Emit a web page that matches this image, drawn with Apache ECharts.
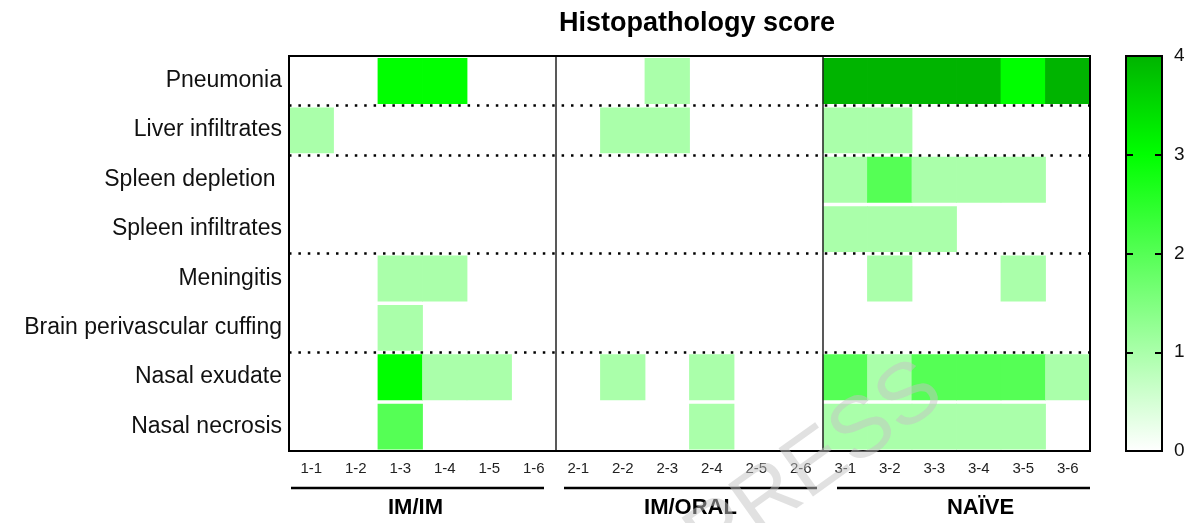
<!DOCTYPE html>
<html>
<head>
<meta charset="utf-8">
<script src="https://cdn.jsdelivr.net/npm/echarts@6/dist/echarts.min.js"></script>
<style>html,body{margin:0;padding:0;background:#fff;}#c{width:1191px;height:523px;}</style>
</head>
<body>
<div id="c"></div>
<script>
// ---- data ----
var columns = ['1-1','1-2','1-3','1-4','1-5','1-6','2-1','2-2','2-3','2-4','2-5','2-6','3-1','3-2','3-3','3-4','3-5','3-6'];
var rows = ['Pneumonia','Liver infiltrates','Spleen depletion ','Spleen infiltrates','Meningitis','Brain perivascular cuffing','Nasal exudate','Nasal necrosis'];
var groups = ['IM/IM','IM/ORAL','NAÏVE'];
var pneumonia         = [0,0,3,3,0,0, 0,0,1,0,0,0, 4,4,4,4,3,4];
var liverInfiltrates  = [1,0,0,0,0,0, 0,1,1,0,0,0, 1,1,0,0,0,0];
var spleenDepletion   = [0,0,0,0,0,0, 0,0,0,0,0,0, 1,2,1,1,1,0];
var spleenInfiltrates = [0,0,0,0,0,0, 0,0,0,0,0,0, 1,1,1,0,0,0];
var meningitis        = [0,0,1,1,0,0, 0,0,0,0,0,0, 0,1,0,0,1,0];
var brainCuffing      = [0,0,1,0,0,0, 0,0,0,0,0,0, 0,0,0,0,0,0];
var nasalExudate      = [0,0,3,1,1,0, 0,1,0,1,0,0, 2,1,2,2,2,1];
var nasalNecrosis     = [0,0,2,0,0,0, 0,0,0,1,0,0, 1,1,1,1,1,0];
var scaleTicks = [0,1,2,3,4];
var groupBoundaries = [6,12];
var rowGroupBoundaries = [1,2,4,6];
var palette = ['#ffffff','#aaffaa','#55ff55','#00ff00','#00b400'];

var matrix = [pneumonia, liverInfiltrates, spleenDepletion, spleenInfiltrates, meningitis, brainCuffing, nasalExudate, nasalNecrosis];
var cells = [];
matrix.forEach(function(r, ri){ r.forEach(function(v, ci){ cells.push([ci, ri, v]); }); });

var FONT = '"Liberation Sans", Arial, Helvetica, sans-serif';
var chart = echarts.init(document.getElementById('c'), null, {renderer:'canvas'});

var option = {
  animation: false,
  backgroundColor: '#fff',
  title: {
    text: 'Histopathology score', left: 692, top: 5, textAlign: 'center',
    textStyle: {fontFamily: FONT, fontSize: 27, fontWeight: 'bold', color: '#000'}
  },
  visualMap: {
    show: false, type: 'continuous', min: scaleTicks[0], max: scaleTicks[scaleTicks.length-1],
    dimension: 2, seriesIndex: 0,
    inRange: {color: palette}
  },
  grid: [
    {left: 289, right: 101, top: 56, bottom: 72, show: true, z: 10, borderColor: '#000', borderWidth: 2, backgroundColor: 'transparent'},
    {left: 1126, width: 36, top: 56, bottom: 72, show: true, z: 10, borderColor: '#000', borderWidth: 2, backgroundColor: 'transparent'}
  ],
  xAxis: [
    {type: 'category', data: columns, gridIndex: 0, position: 'bottom', z: 10,
     axisLine: {lineStyle: {color: '#000', width: 2}},
     axisTick: {alignWithLabel: true, length: 7, lineStyle: {color: '#000', width: 2}},
     axisLabel: {fontFamily: FONT, fontSize: 15, color: '#222', margin: 10},
     splitLine: {show: false}},
    {type: 'value', gridIndex: 0, min: 0, max: columns.length, show: false},
    {type: 'category', data: ['bar'], gridIndex: 1, show: false}
  ],
  yAxis: [
    {type: 'category', data: rows, gridIndex: 0, inverse: true, z: 10,
     axisLine: {lineStyle: {color: '#000', width: 2}},
     axisTick: {alignWithLabel: true, length: 6, lineStyle: {color: '#000', width: 2}},
     axisLabel: {fontFamily: FONT, fontSize: 23, color: '#111', margin: 7},
     splitLine: {show: false}},
    {type: 'value', gridIndex: 0, min: 0, max: rows.length, inverse: true, show: false},
    {type: 'value', gridIndex: 1, min: 0, max: 4, interval: 1, position: 'right', z: 12,
     axisLine: {show: true, lineStyle: {color: '#000', width: 2}},
     axisTick: {show: true, inside: true, length: 7, lineStyle: {color: '#000', width: 2}},
     axisLabel: {fontFamily: FONT, fontSize: 19, color: '#111', margin: 12},
     splitLine: {show: false}},
    {type: 'value', gridIndex: 1, min: 0, max: 4, interval: 1, position: 'left', z: 12,
     axisLine: {show: true, lineStyle: {color: '#000', width: 2}},
     axisTick: {show: true, inside: true, length: 7, lineStyle: {color: '#000', width: 2}},
     axisLabel: {show: false}, splitLine: {show: false}}
  ],
  series: [
    {
      type: 'custom', xAxisIndex: 0, yAxisIndex: 0, data: cells, z: 2,
      encode: {x: 0, y: 1},
      renderItem: function(params, api){
        var v = api.value(2);
        if (!v) return null;
        var c = api.coord([api.value(0), api.value(1)]);
        var s = api.size([1, 1]);
        var x0 = c[0] - s[0]/2, y0 = c[1] - s[1]/2;
        return {type: 'rect', shape: {x: x0 - 0.4, y: y0 + 2, width: s[0] + 0.8, height: s[1] - 3.5},
                style: {fill: api.visual('color')}};
      }
    },
    {
      type: 'line', xAxisIndex: 1, yAxisIndex: 1, data: [], z: 5,
      markLine: {
        silent: true, symbol: 'none', label: {show: false}, animation: false,
        data: groupBoundaries.map(function(b){ return {xAxis: b, lineStyle: {color: '#222', width: 1.5, type: 'solid'}}; })
          .concat(rowGroupBoundaries.map(function(b){ return {yAxis: b, lineStyle: {color: '#000', width: 2.5, type: [2.5, 6.9]}}; }))
      }
    },
    {
      type: 'bar', xAxisIndex: 2, yAxisIndex: 2, barWidth: '100%', z: 1,
      data: [scaleTicks[scaleTicks.length-1]],
      itemStyle: {color: new echarts.graphic.LinearGradient(0, 0, 0, 1, [
        {offset: 0, color: palette[4]}, {offset: 0.25, color: palette[3]},
        {offset: 0.5, color: palette[2]}, {offset: 0.75, color: palette[1]}, {offset: 1, color: palette[0]}])}
    }
  ]
};
chart.setOption(option);

// group underlines and labels derived from the axis scale
var underlineInset = [[2, 12], [8, 6], [14, 0]];
var labelShift = [-7, 1, 24];
var gfx = [];
groups.forEach(function(g, i){
  var xa = chart.convertToPixel({xAxisIndex: 1}, i * 6);
  var xb = chart.convertToPixel({xAxisIndex: 1}, (i + 1) * 6);
  gfx.push({type: 'line', shape: {x1: xa + underlineInset[i][0], y1: 488, x2: xb - underlineInset[i][1], y2: 488},
            style: {stroke: '#000', lineWidth: 2.5}});
  gfx.push({type: 'text', x: (xa + xb) / 2 + labelShift[i], y: 508,
            style: {text: g, font: 'bold 22px ' + FONT, fill: '#000', align: 'center', verticalAlign: 'middle'}});
});
gfx.push({type: 'text', x: 815, y: 466, rotation: 0.62, z: 100,
          style: {text: 'PRESS', font: '86px ' + FONT, fill: 'rgba(195,195,195,0.5)', align: 'center', verticalAlign: 'middle'}});
chart.setOption({graphic: gfx});
</script>
</body>
</html>
